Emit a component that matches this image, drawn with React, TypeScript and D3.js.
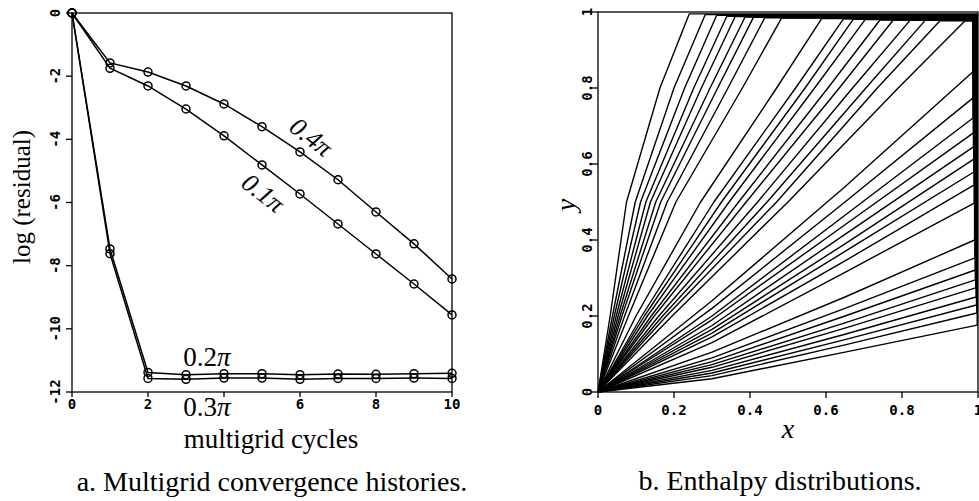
import React from "react";
import * as d3 from "d3";

// ---- panel a: multigrid convergence ----
const cycles = [0, 1, 2, 3, 4, 5, 6, 7, 8, 9, 10];
const res01 = [0, -1.75, -2.31, -3.04, -3.89, -4.81, -5.73, -6.68, -7.63, -8.58, -9.56];
const res04 = [0, -1.58, -1.87, -2.31, -2.88, -3.6, -4.4, -5.28, -6.3, -7.31, -8.42];
const res02 = [0, -7.47, -11.38, -11.45, -11.42, -11.42, -11.45, -11.43, -11.44, -11.42, -11.41];
const res03 = [0, -7.62, -11.57, -11.6, -11.56, -11.56, -11.6, -11.57, -11.57, -11.56, -11.57];
const xTicksA = [0, 2, 4, 6, 8, 10];
const xTickLabelsA = ["0", "2", "", "6", "8", "10"];
const yTicksA = [0, -2, -4, -6, -8, -10, -12];

// ---- panel b: enthalpy distributions ----
// curves that reach the top edge: x at y=0.2, 0.5, 0.8, and where they meet the top
const topX20 = [0.032, 0.038, 0.043, 0.048, 0.053, 0.058, 0.063, 0.07, 0.08, 0.1, 0.115, 0.122, 0.13, 0.14, 0.148, 0.16, 0.17, 0.18, 0.195];
const topX50 = [0.075, 0.098, 0.112, 0.126, 0.138, 0.152, 0.165, 0.182, 0.205, 0.27, 0.305, 0.325, 0.345, 0.37, 0.39, 0.42, 0.445, 0.47, 0.5];
const topX80 = [0.163, 0.2, 0.228, 0.252, 0.272, 0.295, 0.315, 0.342, 0.38, 0.47, 0.52, 0.545, 0.57, 0.605, 0.635, 0.67, 0.705, 0.735, 0.79];
const topEndX = [0.24, 0.282, 0.312, 0.339, 0.361, 0.387, 0.409, 0.439, 0.483, 0.589, 0.646, 0.672, 0.703, 0.742, 0.777, 0.821, 0.861, 0.9, 0.966];
const topBandY = [0.995, 0.993, 0.991, 0.989, 0.988, 0.987, 0.986, 0.985, 0.984, 0.983, 0.982, 0.981, 0.98, 0.979, 0.979, 0.978, 0.978, 0.977, 0.977];
// curves that reach the right edge: y at x=0.3, 0.65, and where they meet the edge
const sideY30 = [0.24, 0.22, 0.2, 0.19, 0.175, 0.165, 0.155, 0.145, 0.13, 0.105, 0.09, 0.08, 0.072, 0.065, 0.057, 0.05, 0.043, 0.035];
const sideY65 = [0.54, 0.5, 0.465, 0.44, 0.415, 0.39, 0.37, 0.345, 0.315, 0.25, 0.22, 0.2, 0.182, 0.168, 0.152, 0.138, 0.124, 0.105];
const sideEndY = [0.842, 0.774, 0.721, 0.682, 0.645, 0.613, 0.579, 0.545, 0.497, 0.4, 0.353, 0.321, 0.295, 0.274, 0.25, 0.229, 0.208, 0.176];
const sideBandX = [0.986, 0.987, 0.987, 0.988, 0.988, 0.989, 0.989, 0.99, 0.99, 0.991, 0.992, 0.993, 0.993, 0.994, 0.995, 0.996, 0.997, 0.998];
const xTicksB = [0, 0.2, 0.4, 0.6, 0.8, 1];
const yTicksB = [0, 0.2, 0.4, 0.6, 0.8, 1];

const serif = "'Liberation Serif', 'Times New Roman', serif";
const tickFont = "'DejaVu Sans Mono', monospace";

export default function App() {
  // panel a scales
  const xa = d3.scaleLinear().domain([0, 10]).range([72, 452]);
  const ya = d3.scaleLinear().domain([-12, 0]).range([392, 13]);
  const lineA = d3
    .line<number>()
    .x((_, i) => xa(cycles[i]))
    .y((d) => ya(d));
  const seriesA = [res01, res04, res02, res03];

  // panel b scales
  const xb = d3.scaleLinear().domain([0, 1]).range([598, 978]);
  const yb = d3.scaleLinear().domain([0, 1]).range([392, 12]);
  const lineB = d3
    .line<[number, number]>()
    .x((d) => xb(d[0]))
    .y((d) => yb(d[1]));

  const topCurves: [number, number][][] = topEndX.map((e, i) => [
    [0, 0],
    [topX20[i], 0.2],
    [topX50[i], 0.5],
    [topX80[i], 0.8],
    [e, topBandY[i]],
    [1, topBandY[i]],
  ]);
  const sideCurves: [number, number][][] = sideEndY.map((e, i) => [
    [0, 0],
    [0.3, sideY30[i]],
    [0.65, sideY65[i]],
    [sideBandX[i], e],
    [sideBandX[i], 0.98],
  ]);

  return (
    <svg
      width={979}
      height={501}
      style={{ position: "absolute", left: 0, top: 0, background: "#fff" }}
    >
      {/* ---------- panel a ---------- */}
      <rect x={72} y={13} width={380} height={379} fill="none" stroke="#000" strokeWidth={1.3} />
      {xTicksA.map((t, i) => (
        <g key={"xa" + t}>
          <line x1={xa(t)} x2={xa(t)} y1={392} y2={397} stroke="#000" strokeWidth={1.3} />
          <text x={xa(t)} y={404} textAnchor="middle" dominantBaseline="central"
            fontFamily={tickFont} fontWeight="bold" fontSize={14}>{xTickLabelsA[i]}</text>
        </g>
      ))}
      {yTicksA.map((t) => (
        <g key={"ya" + t}>
          <line x1={66} x2={72} y1={ya(t)} y2={ya(t)} stroke="#000" strokeWidth={1.3} />
          <text transform={`translate(55,${ya(t)}) rotate(-90)`} textAnchor="middle"
            dominantBaseline="central" fontFamily={tickFont} fontWeight="bold" fontSize={14}>
            {String(t)}
          </text>
        </g>
      ))}
      {seriesA.map((s, k) => (
        <g key={"s" + k}>
          <path d={lineA(s) || ""} fill="none" stroke="#000" strokeWidth={1.5} />
          {s.map((v, i) => (
            <circle key={i} cx={xa(cycles[i])} cy={ya(v)} r={4} fill="none" stroke="#000" strokeWidth={1.5} />
          ))}
        </g>
      ))}
      <text transform="translate(311,137) rotate(38)" textAnchor="middle" dominantBaseline="central"
        fontFamily={serif} fontStyle="italic" fontSize={26}>0.4π</text>
      <text transform="translate(263,193) rotate(38)" textAnchor="middle" dominantBaseline="central"
        fontFamily={serif} fontStyle="italic" fontSize={26}>0.1π</text>
      <text x={207} y={357} textAnchor="middle" dominantBaseline="central" fontFamily={serif} fontSize={27}>
        0.2<tspan fontStyle="italic">π</tspan>
      </text>
      <text x={207} y={407} textAnchor="middle" dominantBaseline="central" fontFamily={serif} fontSize={27}>
        0.3<tspan fontStyle="italic">π</tspan>
      </text>
      <text x={271} y={439} textAnchor="middle" dominantBaseline="central" fontFamily={serif} fontSize={27}>
        multigrid cycles
      </text>
      <text transform="translate(21,197) rotate(-90)" textAnchor="middle" dominantBaseline="central"
        fontFamily={serif} fontSize={25}>log (residual)</text>
      <text x={272} y={481} textAnchor="middle" dominantBaseline="central" fontFamily={serif} fontSize={28}>
        a. Multigrid convergence histories.
      </text>

      {/* ---------- panel b ---------- */}
      <rect x={598} y={12} width={380} height={380} fill="none" stroke="#000" strokeWidth={1.3} />
      {topCurves.concat(sideCurves).map((c, i) => (
        <path key={"c" + i} d={lineB(c) || ""} fill="none" stroke="#000" strokeWidth={1.4} strokeLinejoin="round" />
      ))}
      {xTicksB.map((t) => (
        <g key={"xb" + t}>
          <line x1={xb(t)} x2={xb(t)} y1={392} y2={398} stroke="#000" strokeWidth={1.3} />
          <text x={xb(t)} y={410} textAnchor="middle" dominantBaseline="central"
            fontFamily={tickFont} fontWeight="bold" fontSize={14}>{String(t)}</text>
        </g>
      ))}
      {yTicksB.map((t) => (
        <g key={"yb" + t}>
          <line x1={592} x2={598} y1={yb(t)} y2={yb(t)} stroke="#000" strokeWidth={1.3} />
          <text transform={`translate(587,${yb(t)}) rotate(-90)`} textAnchor="middle"
            dominantBaseline="central" fontFamily={tickFont} fontWeight="bold" fontSize={14}>{String(t)}</text>
        </g>
      ))}
      <text x={788} y={428} textAnchor="middle" dominantBaseline="central" fontFamily={serif}
        fontStyle="italic" fontSize={28}>x</text>
      <text transform="translate(565,205) rotate(-90)" textAnchor="middle" dominantBaseline="central"
        fontFamily={serif} fontStyle="italic" fontSize={28}>y</text>
      <text x={780} y={480} textAnchor="middle" dominantBaseline="central" fontFamily={serif} fontSize={28}>
        b. Enthalpy distributions.
      </text>
    </svg>
  );
}
